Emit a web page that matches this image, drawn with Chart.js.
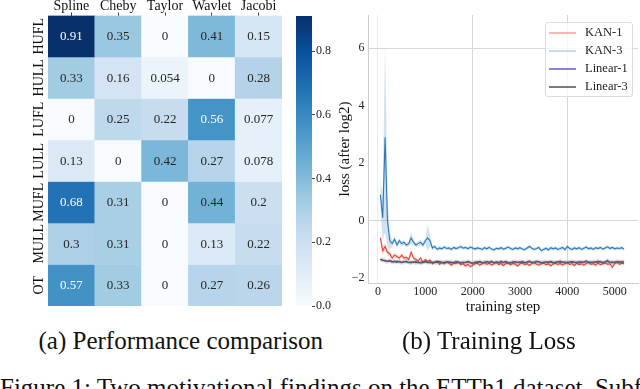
<!DOCTYPE html>
<html><head><meta charset="utf-8">
<script src="https://cdn.jsdelivr.net/npm/chart.js@4.4.1/dist/chart.umd.min.js"></script>
<style>
html,body{margin:0;padding:0;background:#fff;}
#wrap{position:relative;width:640px;height:389px;overflow:hidden;background:#fff;font-family:"Liberation Serif","Times New Roman",serif;color:#111;}
#wrap canvas{position:absolute;top:0;}
.cap{position:absolute;font-size:25px;white-space:nowrap;line-height:1;}
#legend{position:absolute;left:545px;top:22px;width:88px;height:75px;border:1px solid #dcdcdc;border-radius:3px;background:rgba(255,255,255,0.8);box-sizing:border-box;}
.li{position:absolute;left:0;width:100%;height:18px;font-size:12.5px;line-height:18px;color:#222;}
.li .ln{position:absolute;left:3px;width:27px;top:9px;height:1.5px;}
.li .tx{position:absolute;left:39px;top:0;}
</style></head>
<body><div id="wrap">
<canvas id="heat" width="290" height="320" style="left:0"></canvas>
<canvas id="cbar" width="60" height="320" style="left:290px"></canvas>
<canvas id="loss" width="310" height="320" style="left:330px"></canvas>
<div id="legend"></div>
<div class="cap" id="capA">(a) Performance comparison</div>
<div class="cap" id="capB">(b) Training Loss</div>
<div class="cap" id="capFig" style="left:0;top:375px;">Figure 1: Two motivational findings on the ETTh1 dataset. Subfigure (a)</div>
</div>
<script>
// ---------- heatmap data ----------
const methods = ['Spline','Cheby','Taylor','Wavlet','Jacobi'];
const channels = ['HUFL','HULL','LUFL','LULL','MUFL','MULL','OT'];
const rowHUFL = [0.91,0.35,0,0.41,0.15];
const rowHULL = [0.33,0.16,0.054,0,0.28];
const rowLUFL = [0,0.25,0.22,0.56,0.077];
const rowLULL = [0.13,0,0.42,0.27,0.078];
const rowMUFL = [0.68,0.31,0,0.44,0.2];
const rowMULL = [0.3,0.31,0,0.13,0.22];
const rowOT   = [0.57,0.33,0,0.27,0.26];
const colorbarTicks = [0,0.2,0.4,0.6,0.8];

// ---------- training loss data ----------
const steps = [50,100,150,200,250,300,350,400,450,500,550,600,650,700,750,800,850,900,950,1000,
1050,1100,1150,1200,1250,1300,1350,1400,1450,1500,1550,1600,1650,1700,1750,1800,1850,1900,1950,2000,
2050,2100,2150,2200,2250,2300,2350,2400,2450,2500,2550,2600,2650,2700,2750,2800,2850,2900,2950,3000,
3050,3100,3150,3200,3250,3300,3350,3400,3450,3500,3550,3600,3650,3700,3750,3800,3850,3900,3950,4000,
4050,4100,4150,4200,4250,4300,4350,4400,4450,4500,4550,4600,4650,4700,4750,4800,4850,4900,4950,5000,
5050,5100,5150,5200];
const kan1Mean = [-0.6,-1.05,-0.9,-1.1,-1.15,-1.3,-1.2,-1.25,-1.3,-1.2,
-1.3,-1.28,-1.35,-1.1,-1.3,-1.35,-1.4,-1.3,-1.45,-1.35,
-1.42,-1.38,-1.5,-1.45,-1.4,-1.52,-1.45,-1.5,-1.43,-1.48,
-1.55,-1.47,-1.5,-1.44,-1.53,-1.5,-1.58,-1.52,-1.6,-1.55,
-1.5,-1.48,-1.55,-1.5,-1.45,-1.52,-1.48,-1.55,-1.5,-1.46,
-1.53,-1.49,-1.56,-1.5,-1.47,-1.54,-1.49,-1.52,-1.58,-1.5,
-1.47,-1.53,-1.5,-1.56,-1.49,-1.45,-1.52,-1.55,-1.5,-1.48,
-1.54,-1.5,-1.57,-1.51,-1.47,-1.53,-1.49,-1.55,-1.5,-1.46,
-1.52,-1.5,-1.56,-1.48,-1.53,-1.5,-1.55,-1.49,-1.45,-1.52,
-1.5,-1.55,-1.48,-1.53,-1.5,-1.47,-1.52,-1.5,-1.62,-1.5,
-1.45,-1.52,-1.48,-1.5];
const kan1Sd = [0.25,0.15,0.12,0.12,0.1,0.1,0.08,0.08,0.08,0.08,
0.08,0.07,0.07,0.1,0.07,0.07,0.06,0.07,0.06,0.06,
0.06,0.06,0.06,0.06,0.06,0.06,0.06,0.06,0.06,0.06,
0.06,0.06,0.06,0.06,0.06,0.06,0.06,0.06,0.06,0.06,
0.06,0.06,0.06,0.06,0.06,0.06,0.06,0.06,0.06,0.06,
0.06,0.06,0.06,0.06,0.06,0.06,0.06,0.06,0.06,0.06,
0.06,0.06,0.06,0.06,0.06,0.06,0.06,0.06,0.06,0.06,
0.06,0.06,0.06,0.06,0.06,0.06,0.06,0.06,0.06,0.06,
0.06,0.06,0.06,0.06,0.06,0.06,0.06,0.06,0.06,0.06,
0.06,0.06,0.06,0.06,0.06,0.06,0.06,0.06,0.07,0.06,
0.06,0.06,0.06,0.06];
const kan3Mean = [0.9,0.1,2.9,0.0,-0.7,-0.8,-0.65,-0.85,-0.7,-0.8,
-0.75,-0.85,-0.8,-0.6,-0.75,-0.85,-0.8,-0.75,-0.85,-0.7,
-0.6,-0.7,-0.95,-0.9,-1.0,-0.95,-0.98,-0.92,-0.97,-0.95,
-1.0,-0.93,-0.97,-0.94,-0.9,-0.96,-0.93,-0.98,-0.92,-0.95,
-0.99,-0.95,-0.97,-1.0,-0.94,-0.98,-0.93,-0.99,-1.02,-0.96,
-0.98,-0.94,-0.99,-0.96,-0.92,-0.97,-1.0,-0.95,-0.98,-0.94,
-0.99,-1.01,-0.95,-0.9,-0.96,-1.0,-0.97,-0.93,-1.05,-1.0,
-0.96,-1.02,-0.94,-0.98,-0.95,-1.0,-0.97,-0.93,-1.01,-0.9,
-0.97,-1.0,-0.95,-0.98,-0.94,-1.0,-0.96,-0.92,-0.98,-0.95,
-1.0,-0.94,-0.97,-0.93,-0.99,-0.95,-0.91,-0.97,-0.93,-0.98,
-0.95,-0.97,-0.94,-0.99];
const kan3Sd = [0.5,0.8,3.3,0.9,0.3,0.12,0.1,0.1,0.1,0.08,
0.08,0.08,0.1,0.2,0.1,0.08,0.08,0.08,0.08,0.1,
0.45,0.2,0.08,0.07,0.06,0.06,0.06,0.06,0.06,0.06,
0.06,0.06,0.06,0.06,0.06,0.06,0.06,0.06,0.06,0.06,
0.06,0.06,0.06,0.06,0.06,0.06,0.06,0.06,0.06,0.06,
0.06,0.06,0.06,0.06,0.06,0.06,0.06,0.06,0.06,0.06,
0.06,0.06,0.06,0.06,0.06,0.06,0.06,0.06,0.06,0.06,
0.06,0.06,0.06,0.06,0.06,0.06,0.06,0.06,0.06,0.06,
0.06,0.06,0.06,0.06,0.06,0.06,0.06,0.06,0.06,0.06,
0.06,0.06,0.06,0.06,0.06,0.06,0.06,0.06,0.06,0.06,
0.06,0.06,0.06,0.06];
const lin1Mean = [-1.36,-1.38,-1.40,-1.41,-1.39,-1.42,-1.44,-1.41,-1.43,-1.45,
-1.42,-1.44,-1.46,-1.43,-1.45,-1.42,-1.47,-1.44,-1.46,-1.43,
-1.45,-1.47,-1.44,-1.46,-1.42,-1.45,-1.48,-1.44,-1.46,-1.43,
-1.47,-1.45,-1.42,-1.46,-1.44,-1.48,-1.45,-1.43,-1.47,-1.50,
-1.46,-1.43,-1.45,-1.48,-1.44,-1.42,-1.46,-1.44,-1.47,-1.43,
-1.45,-1.41,-1.46,-1.44,-1.48,-1.45,-1.43,-1.47,-1.44,-1.46,
-1.42,-1.45,-1.47,-1.43,-1.46,-1.44,-1.41,-1.45,-1.48,-1.44,
-1.46,-1.43,-1.45,-1.47,-1.44,-1.42,-1.46,-1.44,-1.48,-1.45,
-1.43,-1.46,-1.44,-1.47,-1.42,-1.45,-1.44,-1.40,-1.46,-1.44,
-1.47,-1.43,-1.45,-1.42,-1.46,-1.44,-1.38,-1.45,-1.43,-1.46,
-1.44,-1.42,-1.45,-1.43];
const lin1Sd = [0.05,0.05,0.05,0.05,0.05,0.05,0.05,0.05,0.05,0.05,
0.05,0.05,0.05,0.05,0.05,0.05,0.05,0.05,0.05,0.05,
0.05,0.05,0.05,0.05,0.05,0.05,0.05,0.05,0.05,0.05,
0.05,0.05,0.05,0.05,0.05,0.05,0.05,0.05,0.05,0.05,
0.05,0.05,0.05,0.05,0.05,0.05,0.05,0.05,0.05,0.05,
0.05,0.05,0.05,0.05,0.05,0.05,0.05,0.05,0.05,0.05,
0.05,0.05,0.05,0.05,0.05,0.05,0.05,0.05,0.05,0.05,
0.05,0.05,0.05,0.05,0.05,0.05,0.05,0.05,0.05,0.05,
0.05,0.05,0.05,0.05,0.05,0.05,0.05,0.05,0.05,0.05,
0.05,0.05,0.05,0.05,0.05,0.05,0.05,0.05,0.05,0.05,
0.05,0.05,0.05,0.05];
const lin3Mean = [-1.34,-1.37,-1.39,-1.42,-1.40,-1.44,-1.41,-1.45,-1.42,-1.46,
-1.44,-1.41,-1.45,-1.47,-1.43,-1.46,-1.44,-1.48,-1.45,-1.42,
-1.46,-1.43,-1.47,-1.44,-1.46,-1.42,-1.45,-1.47,-1.43,-1.45,
-1.44,-1.47,-1.43,-1.45,-1.48,-1.44,-1.46,-1.42,-1.45,-1.48,
-1.44,-1.46,-1.42,-1.45,-1.47,-1.43,-1.45,-1.41,-1.46,-1.44,
-1.47,-1.43,-1.45,-1.42,-1.46,-1.48,-1.44,-1.42,-1.46,-1.43,
-1.45,-1.47,-1.43,-1.41,-1.45,-1.47,-1.44,-1.42,-1.46,-1.45,
-1.43,-1.46,-1.42,-1.45,-1.47,-1.44,-1.41,-1.45,-1.43,-1.47,
-1.45,-1.42,-1.46,-1.44,-1.47,-1.43,-1.45,-1.42,-1.44,-1.46,
-1.43,-1.45,-1.41,-1.44,-1.46,-1.43,-1.42,-1.45,-1.47,-1.44,
-1.42,-1.45,-1.43,-1.44];
const lin3Sd = [0.08,0.08,0.08,0.08,0.08,0.08,0.08,0.08,0.08,0.08,
0.08,0.08,0.08,0.08,0.08,0.08,0.08,0.08,0.08,0.08,
0.08,0.08,0.08,0.08,0.08,0.08,0.08,0.08,0.08,0.08,
0.08,0.08,0.08,0.08,0.08,0.08,0.08,0.08,0.08,0.08,
0.08,0.08,0.08,0.08,0.08,0.08,0.08,0.08,0.08,0.08,
0.08,0.08,0.08,0.08,0.08,0.08,0.08,0.08,0.08,0.08,
0.08,0.08,0.08,0.08,0.08,0.08,0.08,0.08,0.08,0.08,
0.08,0.08,0.08,0.08,0.08,0.08,0.08,0.08,0.08,0.08,
0.08,0.08,0.08,0.08,0.08,0.08,0.08,0.08,0.08,0.08,
0.08,0.08,0.08,0.08,0.08,0.08,0.08,0.08,0.08,0.08,
0.08,0.08,0.08,0.08];
const seriesNames = ['KAN-1','KAN-3','Linear-1','Linear-3'];
const xTicks = [0,1000,2000,3000,4000,5000];
const yTicks = [-2,0,2,4,6];

// ---------- styles ----------
const SERIF = '"Liberation Serif", "Times New Roman", serif';
const BLUES = ['#f7fbff','#deebf7','#c6dbef','#9ecae1','#6baed6','#4292c6','#2171b5','#08519c','#08306b'];
const lineColors = ['#e5432e','#2a78b8','#6b5fc9','#555555'];
const bandColors = ['rgba(229,67,46,0.18)','rgba(42,120,184,0.22)','rgba(107,95,201,0.18)','rgba(85,85,85,0.18)'];
const legendColors = ['#f5b8b4','#c6dcf0','#8c82dc','#7b7b7b'];

function hexToRgb(h){return [parseInt(h.slice(1,3),16),parseInt(h.slice(3,5),16),parseInt(h.slice(5,7),16)];}
function blues(t){
  t=Math.max(0,Math.min(1,t));
  const p=t*8, i=Math.min(7,Math.floor(p)), f=p-i;
  const a=hexToRgb(BLUES[i]), b=hexToRgb(BLUES[i+1]);
  return 'rgb('+a.map((v,k)=>Math.round(v+(b[k]-v)*f)).join(',')+')';
}

const heat = [rowHUFL,rowHULL,rowLUFL,rowLULL,rowMUFL,rowMULL,rowOT];
const vmax = Math.max(...heat.flat());
const fmt = v => String(Number(v.toPrecision(2)));

// ---------- heatmap ----------
const cellText = {
  id:'cellText',
  afterDatasetsDraw(chart){
    const ctx=chart.ctx; ctx.save();
    ctx.font='13px '+SERIF; ctx.textAlign='center'; ctx.textBaseline='middle';
    chart.data.datasets.forEach((ds,i)=>{
      chart.getDatasetMeta(i).data.forEach((bar,j)=>{
        const v=heat[i][j];
        ctx.fillStyle = v/vmax>0.55 ? '#ffffff' : '#262626';
        ctx.fillText(fmt(v), bar.x, (bar.y+bar.base)/2+0.5);
      });
    });
    ctx.restore();
  }
};
new Chart(document.getElementById('heat'),{
  type:'bar',
  data:{labels:methods, datasets: heat.map((row,i)=>({
    label:channels[i], data: row.map(()=>[i,i+1]),
    backgroundColor: row.map(v=>blues(v/vmax)),
    borderWidth:0, grouped:false, barPercentage:1, categoryPercentage:1
  }))},
  options:{
    responsive:false, animation:false, devicePixelRatio:1,
    layout:{padding:{left:0,top:0,right:8,bottom:14}},
    plugins:{legend:{display:false}, tooltip:{enabled:false}},
    scales:{
      x:{position:'top', offset:true,
         grid:{display:true, offset:false, drawOnChartArea:false, drawTicks:true, tickLength:3, color:'#444'},
         border:{display:false},
         ticks:{font:{family:SERIF,size:14}, color:'#111', padding:-2, maxRotation:0},
         afterFit(s){s.height=15.5;}},
      y:{type:'linear', min:0, max:7, reverse:true,
         afterBuildTicks(s){s.ticks=channels.map((c,i)=>({value:i+0.5}));},
         ticks:{callback:(v,i)=>channels[i], minRotation:90, maxRotation:90, crossAlign:'center', padding:-19,
                font:{family:SERIF,size:14}, color:'#111'},
         grid:{display:false}, border:{display:false},
         afterFit(s){s.width=48;}}
    }
  },
  plugins:[cellText]
});

// ---------- colorbar ----------
new Chart(document.getElementById('cbar'),{
  type:'bar',
  data:{labels:[''], datasets:[{data:[[0,vmax]], borderWidth:0, barPercentage:1, categoryPercentage:1,
    backgroundColor:(c)=>{
      const area=c.chart.chartArea; if(!area) return BLUES[4];
      const g=c.chart.ctx.createLinearGradient(0,area.bottom,0,area.top);
      BLUES.forEach((col,k)=>g.addColorStop(k/8,col));
      return g;
    }}]},
  options:{
    responsive:false, animation:false, devicePixelRatio:1,
    layout:{padding:{left:6,top:16,right:0,bottom:14}},
    plugins:{legend:{display:false}, tooltip:{enabled:false}},
    scales:{
      x:{display:false},
      y:{position:'right', min:0, max:vmax,
         afterBuildTicks(s){s.ticks=colorbarTicks.map(v=>({value:v}));},
         ticks:{callback:v=>v.toFixed(1), font:{family:SERIF,size:12}, color:'#222', padding:1},
         grid:{drawOnChartArea:false, drawTicks:true, tickLength:3, color:'#444'},
         border:{display:false},
         afterFit(s){s.width=38;}}
    }
  }
});

// ---------- training loss ----------
const means=[kan1Mean,kan3Mean,lin1Mean,lin3Mean];
const sds=[kan1Sd,kan3Sd,lin1Sd,lin3Sd];
const lossDatasets=[];
seriesNames.forEach((name,s)=>{
  lossDatasets.push({label:name+' hi', data:steps.map((x,i)=>({x, y:means[s][i]+sds[s][i]})),
    borderWidth:0, pointRadius:0, fill:false});
  lossDatasets.push({label:name+' lo', data:steps.map((x,i)=>({x, y:means[s][i]-sds[s][i]})),
    borderWidth:0, pointRadius:0, fill:'-1', backgroundColor:bandColors[s]});
  lossDatasets.push({label:name, data:steps.map((x,i)=>({x, y:means[s][i]})),
    borderColor:lineColors[s], borderWidth:1.1, pointRadius:0, fill:false});
});
lossDatasets.forEach((d,i)=>{d.order=100-i; d.tension=0;});
const gx = v => v===0 ? '#ebebeb' : (v===2000||v===4000) ? '#d6d6d6' : 'rgba(0,0,0,0)';
const gy = v => (v===0||v===6) ? '#d6d6d6' : 'rgba(0,0,0,0)';
new Chart(document.getElementById('loss'),{
  type:'line',
  data:{datasets:lossDatasets},
  options:{
    responsive:false, animation:false, devicePixelRatio:1,
    layout:{padding:{left:0,top:15,right:2,bottom:0}},
    plugins:{legend:{display:false}, tooltip:{enabled:false}},
    scales:{
      x:{type:'linear', min:-211, max:5493,
         afterBuildTicks(s){s.ticks=xTicks.map(v=>({value:v}));},
         ticks:{callback:v=>String(v), font:{family:SERIF,size:12}, color:'#222', padding:1.5, maxRotation:0},
         grid:{drawTicks:false, color:c=>gx(c.tick.value), lineWidth:1},
         border:{color:'#cccccc'},
         title:{display:true, text:'training step', font:{family:SERIF,size:15}, color:'#111', padding:{top:0,bottom:4}},
         afterFit(s){s.height=37;}},
      y:{type:'linear', min:-2.17, max:7.16,
         afterBuildTicks(s){s.ticks=yTicks.map(v=>({value:v}));},
         ticks:{callback:v=>v<0?'\u2212'+Math.abs(v):String(v), font:{family:SERIF,size:12}, color:'#222', padding:3.5},
         grid:{drawTicks:false, color:c=>gy(c.tick.value), lineWidth:1},
         border:{color:'#cccccc'},
         title:{display:true, text:'loss (after log2)', font:{family:SERIF,size:15}, color:'#111', padding:{top:6,bottom:0}},
         afterFit(s){s.width=38;}}
    }
  }
});

// ---------- legend (HTML) ----------
const leg=document.getElementById('legend');
seriesNames.forEach((n,i)=>{
  const d=document.createElement('div'); d.className='li'; d.style.top=(i*18)+'px';
  d.innerHTML='<span class="ln" style="background:'+legendColors[i]+'"></span><span class="tx">'+n+'</span>';
  leg.appendChild(d);
});

// ---------- captions ----------
function placeCap(id,cx,cy){const e=document.getElementById(id); e.style.left=(cx-e.offsetWidth/2)+'px'; e.style.top=(cy-e.offsetHeight/2)+'px';}
placeCap('capA',181,340);
placeCap('capB',489,340);
</script>
</body></html>
